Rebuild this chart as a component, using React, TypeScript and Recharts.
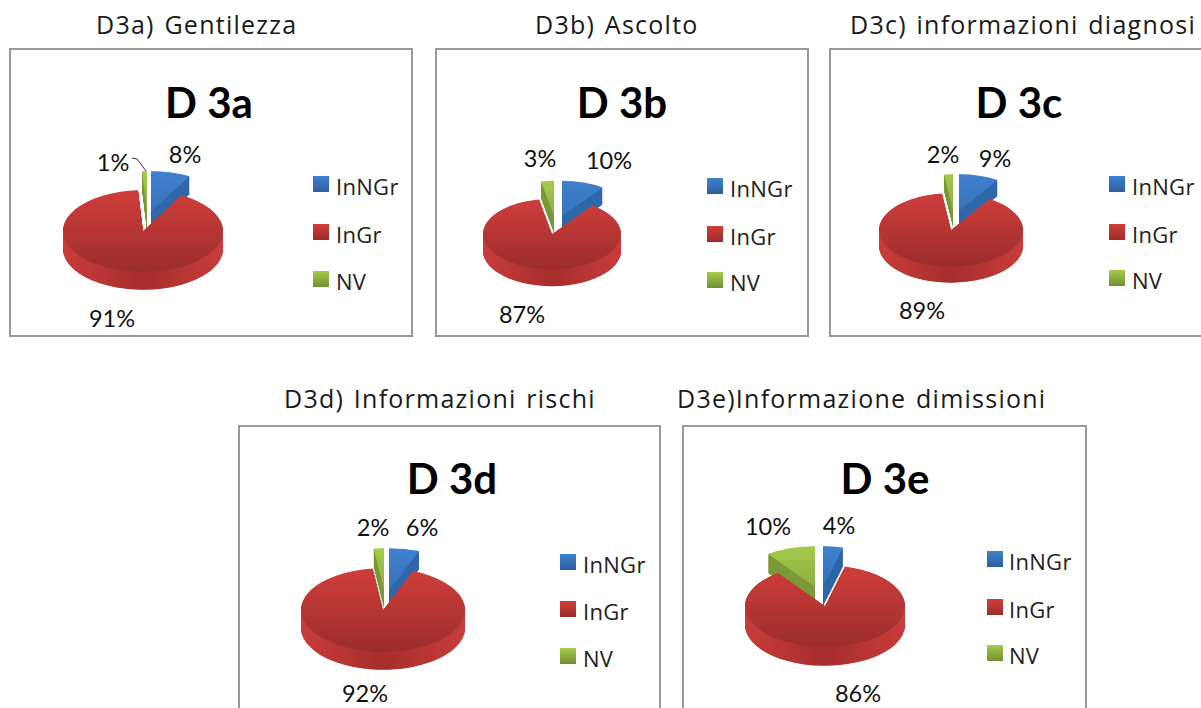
import { PieChart, Pie, Cell } from "recharts";

const seriesNames = ["InNGr", "InGr", "NV"];

const captions = [
  "D3a) Gentilezza",
  "D3b) Ascolto",
  "D3c) informazioni diagnosi",
  "D3d) Informazioni rischi",
  "D3e)Informazione dimissioni",
];
const titles = ["D 3a", "D 3b", "D 3c", "D 3d", "D 3e"];

const d3aValues = [8, 91, 1];
const d3bValues = [10, 87, 3];
const d3cValues = [9, 89, 2];
const d3dValues = [6, 92, 2];
const d3eValues = [4, 86, 10];
const allValues = [d3aValues, d3bValues, d3cValues, d3dValues, d3eValues];

// page layout of each panel: frame, caption, title, pie, slice offsets, labels and legend
const panels = [
  {
    box: [9, 48, 404, 289],
    caption: [96, 24],
    title: [209, 102],
    pie: [143, 231, 80],
    blueApex: [151, 212],
    greenApex: [147, 212],
    depth: 18,
    labels: [[185, 154], [112, 318], [113, 162]],
    legend: [313, 336, [184, 232, 279]],
    leader: "132,158 137,159 146,171",
  },
  {
    box: [435, 48, 374, 289],
    caption: [535, 24],
    title: [622, 102],
    pie: [552, 234, 69],
    blueApex: [562, 216],
    greenApex: [554, 216],
    depth: 17,
    labels: [[609, 160], [522, 314], [540, 158]],
    legend: [707, 730, [186, 234, 280]],
  },
  {
    box: [829, 48, 390, 289],
    caption: [850, 24],
    title: [1019, 102],
    pie: [951, 230, 72],
    blueApex: [959, 211],
    greenApex: [953, 211],
    depth: 16,
    labels: [[995, 158], [922, 310], [943, 154]],
    legend: [1109, 1132, [184, 232, 278]],
  },
  {
    box: [238, 425, 423, 300],
    caption: [284, 398],
    title: [452, 478],
    pie: [383, 610, 82],
    blueApex: [389, 590],
    greenApex: [384, 590],
    depth: 18,
    labels: [[422, 527], [365, 693], [373, 527]],
    legend: [560, 583, [562, 609, 656]],
  },
  {
    box: [682, 425, 405, 300],
    caption: [677, 398],
    title: [885, 478],
    pie: [825, 606, 80],
    blueApex: [823, 587],
    greenApex: [815, 587],
    depth: 19,
    labels: [[839, 525], [858, 693], [768, 526]],
    legend: [987, 1009, [559, 607, 653]],
  },
];

const SQUASH = 0.51;
const SERIES_IDS = ["blue", "red", "green"];

// side walls of the exploded slices are flat, only the big slice gets a lit rim
const wallFills = ["#2f67a9", "url(#wall-red)", "#7b9938"];

function Gradients() {
  return (
    <svg width={0} height={0} style={{ position: "absolute" }}>
      <defs>
        <linearGradient id="top-blue" x1="0" y1="0" x2="0" y2="1">
          <stop offset="0%" stopColor="#3f81d0" />
          <stop offset="100%" stopColor="#3871b8" />
        </linearGradient>
        <linearGradient id="top-red" x1="0" y1="0" x2="0" y2="1">
          <stop offset="0%" stopColor="#cf3e3b" />
          <stop offset="100%" stopColor="#9c2d2b" />
        </linearGradient>
        <linearGradient id="top-green" x1="0" y1="0" x2="0" y2="1">
          <stop offset="0%" stopColor="#a4cb4c" />
          <stop offset="100%" stopColor="#8cae40" />
        </linearGradient>
        <linearGradient id="wall-red" x1="0" y1="0" x2="1" y2="0">
          <stop offset="0%" stopColor="#c83c3a" />
          <stop offset="50%" stopColor="#a62e2c" />
          <stop offset="100%" stopColor="#c83c3a" />
        </linearGradient>
        <linearGradient id="swatch-blue" x1="0" y1="0" x2="0" y2="1">
          <stop offset="0%" stopColor="#3f81d0" />
          <stop offset="100%" stopColor="#2c5f9e" />
        </linearGradient>
        <linearGradient id="swatch-red" x1="0" y1="0" x2="0" y2="1">
          <stop offset="0%" stopColor="#cf3e3b" />
          <stop offset="100%" stopColor="#9c2d2b" />
        </linearGradient>
        <linearGradient id="swatch-green" x1="0" y1="0" x2="0" y2="1">
          <stop offset="0%" stopColor="#a4cb4c" />
          <stop offset="100%" stopColor="#748f34" />
        </linearGradient>
      </defs>
    </svg>
  );
}

function Panel({ index }: { index: number }) {
  const p = panels[index];
  const values = allValues[index];
  const data = seriesNames.map((name, i) => ({ name, value: values[i] }));
  const [boxX, boxY, boxW, boxH] = p.box;
  const [cx, cy, r] = p.pie;

  const toChart = (x: number, y: number) => [x - boxX, (y - boxY) / SQUASH];

  // draw order: exploded slices behind, the big slice in front
  const layers = [
    { slice: 0, apex: p.blueApex },
    { slice: 2, apex: p.greenApex },
    { slice: 1, apex: [cx, cy] },
  ];
  const wallSteps: number[] = [];
  for (let d = p.depth; d > 0; d -= 0.5) wallSteps.push(d);

  const renderPie = (slice: number, x: number, y: number, fill: string, key: string) => {
    const [chartX, chartY] = toChart(x, y);
    return (
      <Pie
        key={key}
        data={data}
        dataKey="value"
        cx={chartX}
        cy={chartY}
        innerRadius={0}
        outerRadius={r}
        startAngle={90}
        endAngle={-270}
        stroke="none"
        label={false}
        labelLine={false}
        legendType="none"
        isAnimationActive={false}
      >
        {data.map((_, i) => (
          <Cell key={i} fill={i === slice ? fill : "none"} stroke="none" />
        ))}
      </Pie>
    );
  };

  return (
    <>
      <div
        style={{
          position: "absolute",
          left: boxX,
          top: boxY,
          width: boxW,
          height: boxH,
          boxSizing: "border-box",
          border: "2px solid #999",
          background: "#fff",
        }}
      />
      <div style={{ position: "absolute", left: p.caption[0], top: p.caption[1] - 17, ...captionStyle }}>
        {captions[index]}
      </div>
      <div style={{ position: "absolute", left: p.title[0] - 100, top: p.title[1] - 30, ...titleStyle }}>
        {titles[index]}
      </div>
      <div
        style={{
          position: "absolute",
          left: boxX,
          top: boxY,
          transform: `scaleY(${SQUASH})`,
          transformOrigin: "top left",
        }}
      >
        <PieChart
          width={boxW}
          height={boxH / SQUASH}
          margin={{ top: 0, right: 0, bottom: 0, left: 0 }}
        >
          {layers.flatMap(({ slice, apex }) => [
            ...wallSteps.map((d) =>
              renderPie(slice, apex[0], apex[1] + d, wallFills[slice], `wall-${slice}-${d}`)
            ),
            renderPie(slice, apex[0], apex[1], `url(#top-${SERIES_IDS[slice]})`, `top-${slice}`),
          ])}
        </PieChart>
      </div>
      {values.map((v, i) => (
        <div
          key={i}
          style={{
            position: "absolute",
            left: p.labels[i][0] - 40,
            top: p.labels[i][1] - 9,
            ...labelStyle,
          }}
        >
          {v}%
        </div>
      ))}
      {seriesNames.map((name, i) => (
        <div key={name}>
          <svg
            width={16}
            height={16}
            style={{ position: "absolute", left: p.legend[0] as number, top: (p.legend[2] as number[])[i] - 8 }}
          >
            <rect width={16} height={16} fill={`url(#swatch-${SERIES_IDS[i]})`} />
          </svg>
          <div
            style={{
              position: "absolute",
              left: p.legend[1] as number,
              top: (p.legend[2] as number[])[i] - 13,
              ...legendStyle,
            }}
          >
            {name}
          </div>
        </div>
      ))}
      {p.leader && (
        <svg width={1201} height={708} style={{ position: "absolute", left: 0, top: 0, pointerEvents: "none" }}>
          <polyline points={p.leader} fill="none" stroke="#333" strokeWidth={1} />
        </svg>
      )}
    </>
  );
}

const captionStyle = {
  fontFamily: "'Open Sans'",
  fontSize: 25,
  letterSpacing: 1.25,
  wordSpacing: 2,
  lineHeight: "34px",
  color: "#1a1a1a",
  whiteSpace: "nowrap",
} as const;

const titleStyle = {
  width: 200,
  textAlign: "center",
  fontFamily: "Lato",
  fontWeight: 700,
  fontSize: 42,
  lineHeight: "60px",
  color: "#000",
} as const;

const labelStyle = {
  width: 80,
  textAlign: "center",
  fontFamily: "Lato",
  fontSize: 23.5,
  lineHeight: "18px",
  color: "#111",
} as const;

const legendStyle = {
  fontFamily: "'Open Sans'",
  fontSize: 22,
  letterSpacing: 0.3,
  lineHeight: "30px",
  color: "#222",
  whiteSpace: "nowrap",
} as const;

export default function App() {
  return (
    <div
      style={{
        position: "absolute",
        left: 0,
        top: 0,
        width: 1201,
        height: 708,
        overflow: "hidden",
        background: "#fff",
      }}
    >
      <Gradients />
      {panels.map((_, i) => (
        <Panel key={i} index={i} />
      ))}
    </div>
  );
}
